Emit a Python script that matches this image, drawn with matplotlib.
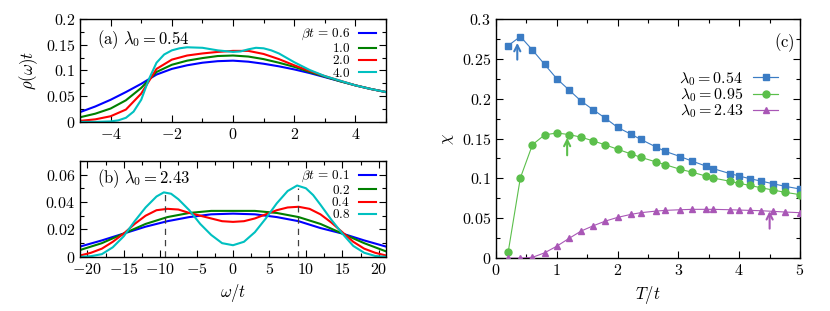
import matplotlib
matplotlib.use('Agg')
import matplotlib.pyplot as plt
from matplotlib.ticker import MultipleLocator, FuncFormatter
from matplotlib.legend_handler import HandlerErrorbar

plt.rcParams['font.family'] = 'serif'
plt.rcParams['font.serif'] = ['cmr10']
plt.rcParams['mathtext.fontset'] = 'cm'
plt.rcParams['axes.unicode_minus'] = True

# ---- panel (a): lambda0 = 0.54 ----
a_labels = [r'$\beta t\, =\, 0.6$', r'$1.0$', r'$2.0$', r'$4.0$']
a_x = [-5, -4.5, -4, -3.5, -3, -2.5, -2, -1.5, -1, -0.5, 0, 0.5, 1, 1.5, 2, 2.5, 3, 3.5, 4, 4.5, 5]
a_y06 = [0.019, 0.030, 0.043, 0.058, 0.074, 0.092, 0.103, 0.110, 0.115, 0.118, 0.119, 0.117,
         0.113, 0.108, 0.102, 0.095, 0.087, 0.079, 0.071, 0.064, 0.058]
a_y10 = [0.009, 0.016, 0.026, 0.042, 0.066, 0.097, 0.111, 0.119, 0.124, 0.128, 0.129, 0.127,
         0.122, 0.115, 0.107, 0.097, 0.088, 0.079, 0.071, 0.064, 0.058]
a_y20 = [0.002, 0.005, 0.011, 0.024, 0.055, 0.103, 0.121, 0.129, 0.133, 0.136, 0.138, 0.138,
         0.132, 0.122, 0.110, 0.099, 0.089, 0.080, 0.071, 0.064, 0.058]
a_x40 = [-5, -4.5, -4, -3.75, -3.5, -3.25, -3, -2.75, -2.5, -2.25, -2, -1.75, -1.5, -1, -0.5, 0,
         0.25, 0.5, 0.75, 1, 1.25, 1.5, 2, 2.5, 3, 3.5, 4, 4.5, 5]
a_y40 = [0.000, 0.000, 0.001, 0.003, 0.008, 0.020, 0.043, 0.083, 0.115, 0.131, 0.139, 0.143,
         0.145, 0.144, 0.139, 0.136, 0.137, 0.141, 0.144, 0.143, 0.139, 0.133, 0.116, 0.101,
         0.089, 0.080, 0.071, 0.064, 0.058]

# ---- panel (b): lambda0 = 2.43 ----
b_labels = [r'$\beta t\, =\, 0.1$', r'$0.2$', r'$0.4$', r'$0.8$']
b_x = [-21, -18, -15, -12, -9, -6, -3, 0, 3, 6, 9, 12, 15, 18, 21]
b_y01 = [0.0075, 0.012, 0.017, 0.022, 0.026, 0.029, 0.031, 0.0315, 0.031, 0.029, 0.026, 0.021,
         0.017, 0.012, 0.0075]
b_y02 = [0.005, 0.010, 0.017, 0.024, 0.029, 0.032, 0.0335, 0.0335, 0.0335, 0.032, 0.029, 0.024,
         0.017, 0.010, 0.004]
b_xf = [-21, -19.5, -18, -16.5, -15, -13.5, -12, -10.5, -9, -7.5, -6, -4.5, -3, -1.5, 0, 1.5, 3,
        4.5, 6, 7.5, 9, 10.5, 12, 13.5, 15, 16.5, 18, 19.5, 21]
b_y04 = [0.001, 0.003, 0.006, 0.011, 0.017, 0.024, 0.030, 0.034, 0.035, 0.0345, 0.032, 0.030,
         0.028, 0.026, 0.0255, 0.026, 0.028, 0.031, 0.034, 0.036, 0.0365, 0.035, 0.031, 0.025,
         0.018, 0.011, 0.006, 0.003, 0.001]
b_x08 = [-21, -19.5, -18, -16.5, -15, -13.5, -12, -10.5, -9.5, -8.5, -7.5, -6, -4.5, -3, -1.5, 0,
         1.5, 3, 4.5, 6, 7.5, 8.8, 10, 11, 12, 13.5, 15, 16.5, 18, 19.5, 21]
b_y08 = [0.0, 0.0005, 0.002, 0.007, 0.015, 0.026, 0.036, 0.044, 0.047, 0.046, 0.042, 0.034,
         0.024, 0.016, 0.010, 0.0085, 0.011, 0.018, 0.028, 0.039, 0.048, 0.052, 0.050, 0.045,
         0.038, 0.027, 0.017, 0.008, 0.003, 0.0007, 0.0]
b_peak_x = [-9.4, 8.9]
b_peak_y = [0.046, 0.050]

# ---- panel (c): susceptibility ----
c_T = [0.2, 0.4, 0.6, 0.8, 1.0, 1.2, 1.4, 1.6, 1.8, 2.0, 2.22, 2.38, 2.63, 2.78, 3.03, 3.23,
       3.45, 3.57, 3.85, 4.0, 4.17, 4.35, 4.55, 4.76, 5.0]
c_chi054 = [0.2665, 0.278, 0.261, 0.243, 0.225, 0.211, 0.197, 0.186, 0.1755, 0.164, 0.1554,
            0.149, 0.1395, 0.134, 0.1274, 0.1215, 0.1156, 0.1123, 0.106, 0.103, 0.0997, 0.0968,
            0.0934, 0.090, 0.0867]
c_chi095 = [0.0075, 0.1005, 0.1424, 0.1546, 0.157, 0.155, 0.1517, 0.147, 0.142, 0.1366, 0.1307,
            0.1265, 0.1207, 0.1173, 0.1114, 0.1077, 0.103, 0.1005, 0.0964, 0.0938, 0.0913,
            0.0884, 0.0855, 0.0825, 0.0796]
c_chi243 = [0.0, 0.0, 0.001, 0.0067, 0.015, 0.0247, 0.034, 0.0406, 0.0465, 0.0511, 0.0549,
            0.057, 0.059, 0.0599, 0.0607, 0.0612, 0.0612, 0.0612, 0.0607, 0.0603, 0.0599,
            0.0595, 0.0587, 0.0578, 0.057]
c_labels = [r'$\lambda_0 = 0.54$', r'$\lambda_0 = 0.95$', r'$\lambda_0 = 2.43$']
arrow_x = [0.35, 1.17, 4.5]
arrow_y0 = [0.249, 0.129, 0.037]
arrow_y1 = [0.270, 0.151, 0.059]

line_cols = ['#0000ff', '#008000', '#ff0000', '#00c0c0']
pt_cols = ['#3b7cc4', '#5bbf4b', '#a957b6']

fmt = FuncFormatter(lambda v, p: f'${v:g}$')


def style(ax, xmaj, xmin, ymaj, ymin):
    ax.xaxis.set_major_locator(MultipleLocator(xmaj))
    ax.xaxis.set_minor_locator(MultipleLocator(xmin))
    ax.yaxis.set_major_locator(MultipleLocator(ymaj))
    ax.yaxis.set_minor_locator(MultipleLocator(ymin))
    ax.xaxis.set_major_formatter(fmt)
    ax.yaxis.set_major_formatter(fmt)
    ax.tick_params(which='both', direction='in', top=True, right=True, labelsize=11.5)
    ax.tick_params(which='major', length=5, width=0.8)
    ax.tick_params(which='minor', length=3, width=0.8)
    for s in ax.spines.values():
        s.set_linewidth(1.0)


fig = plt.figure(figsize=(8.3, 3.11), dpi=100)
ax_a = fig.add_axes([0.0964, 0.608, 0.3687, 0.331])
ax_b = fig.add_axes([0.0964, 0.174, 0.3687, 0.309])
ax_c = fig.add_axes([0.5976, 0.170, 0.3663, 0.769])

leg_kw = dict(loc='upper right', frameon=False, markerfirst=False, fontsize=9.5,
              handlelength=1.3, handleheight=0.5, labelspacing=-0.05, borderpad=0.0,
              handletextpad=0.7)

# (a)
for xs, ys, c, lab in zip([a_x, a_x, a_x, a_x40], [a_y06, a_y10, a_y20, a_y40], line_cols, a_labels):
    ax_a.plot(xs, ys, color=c, lw=1.5, label=lab)
ax_a.set_xlim(-5, 5)
ax_a.set_ylim(0, 0.2)
style(ax_a, 2, 1, 0.05, 0.025)
ax_a.set_ylabel(r'$\rho(\omega)t$', fontsize=12)
ax_a.text(0.055, 0.80, r'$\mathrm{(a)}\ \lambda_0 = 0.54$', transform=ax_a.transAxes,
          fontsize=12, va='center')
ax_a.legend(bbox_to_anchor=(0.99, 0.985), **leg_kw)

# (b)
for xs, ys, c, lab in zip([b_x, b_x, b_xf, b_x08], [b_y01, b_y02, b_y04, b_y08], line_cols, b_labels):
    ax_b.plot(xs, ys, color=c, lw=1.5, label=lab)
for px, py in zip(b_peak_x, b_peak_y):
    ax_b.plot([px, px], [0, py], color='#404040', lw=0.9, ls=(0, (5, 4)))
ax_b.set_xlim(-21, 21)
ax_b.set_ylim(0, 0.07)
style(ax_b, 5, 2.5, 0.02, 0.01)
ax_b.set_xlabel(r'$\omega/t$', fontsize=12)
ax_b.text(0.055, 0.81, r'$\mathrm{(b)}\ \lambda_0 = 2.43$', transform=ax_b.transAxes,
          fontsize=12, va='center')
ax_b.legend(bbox_to_anchor=(0.99, 0.985), **leg_kw)

# (c)
markers = ['s', 'o', '^']
msizes = [5, 5, 4.5]
handles = []
for ys, c, m, ms, lab in zip([c_chi054, c_chi095, c_chi243], pt_cols, markers, msizes, c_labels):
    ax_c.plot(c_T, ys, color=c, lw=0.8, marker=m, ms=ms, zorder=3)
    h = ax_c.errorbar([], [], xerr=[], color=c, lw=0.8, marker=m, ms=ms, capsize=3,
                      elinewidth=0.8, label=lab)
    handles.append(h)
for x, y0, y1, c in zip(arrow_x, arrow_y0, arrow_y1, pt_cols):
    ax_c.annotate('', xy=(x, y1), xytext=(x, y0),
                  arrowprops=dict(arrowstyle='->', color=c, lw=1.5, mutation_scale=11,
                                  shrinkA=0, shrinkB=0))
ax_c.set_xlim(0, 5)
ax_c.set_ylim(0, 0.3)
style(ax_c, 1, 0.5, 0.05, 0.025)
ax_c.set_xlabel(r'$T/t$', fontsize=12)
ax_c.set_ylabel(r'$\chi$', fontsize=12)
ax_c.text(0.915, 0.90, r'$\mathrm{(c)}$', transform=ax_c.transAxes, fontsize=12, va='center')
ax_c.legend(handles=handles, labels=c_labels, loc='upper right', bbox_to_anchor=(0.955, 0.82),
            frameon=False, markerfirst=False, fontsize=11.5, handlelength=1.6,
            labelspacing=-0.1, borderpad=0.0, handletextpad=0.6,
            handler_map={type(handles[0]): HandlerErrorbar(xerr_size=0.8)})

fig.savefig('out.png', dpi=100)
